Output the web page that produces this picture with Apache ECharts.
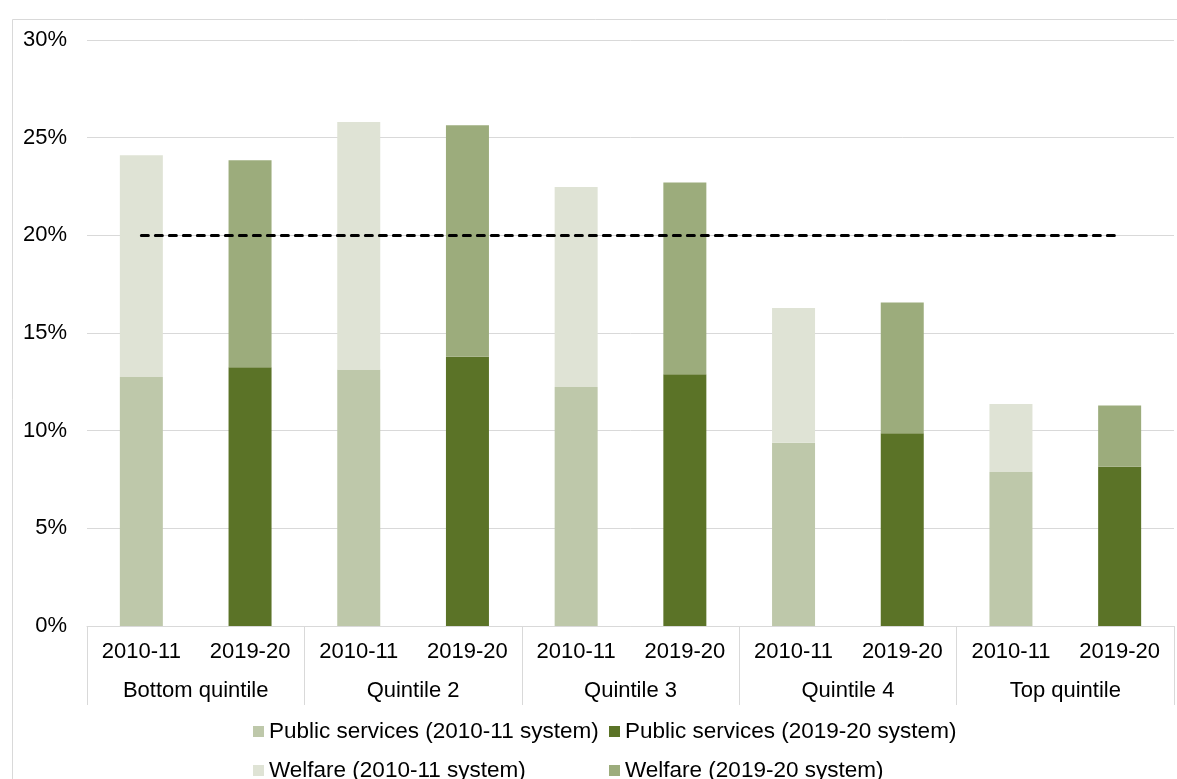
<!DOCTYPE html>
<html>
<head>
<meta charset="utf-8">
<script src="https://cdn.jsdelivr.net/npm/echarts@6/dist/echarts.min.js"></script>
<style>
  html, body { margin: 0; padding: 0; background: #ffffff; }
  #chart { width: 1177px; height: 779px; }
</style>
</head>
<body>
<div id="chart"></div>
<script>
// Tax and benefit share of income by quintile, two policy systems
const years = ['2010-11', '2019-20', '2010-11', '2019-20', '2010-11', '2019-20', '2010-11', '2019-20', '2010-11', '2019-20'];
const groups = ['Bottom quintile', 'Quintile 2', 'Quintile 3', 'Quintile 4', 'Top quintile'];
const yTicks = [0, 5, 10, 15, 20, 25, 30];

// Values (%), '-' where a series has no bar in that slot
const publicServices2010 = [12.75, '-', 13.13, '-', 12.24, '-', 9.38, '-', 7.88, '-'];
const publicServices2019 = ['-', 13.25, '-', 13.78, '-', 12.89, '-', 9.87, '-', 8.15];
const welfare2010 = [11.35, '-', 12.67, '-', 10.23, '-', 6.90, '-', 3.48, '-'];
const welfare2019 = ['-', 10.60, '-', 11.85, '-', 9.82, '-', 6.69, '-', 3.14];
const referenceLevel = 20;

const seriesNames = [
  'Public services (2010-11 system)',
  'Public services (2019-20 system)',
  'Welfare (2010-11 system)',
  'Welfare (2019-20 system)'
];
const colors = ['#bec8aa', '#5b7327', '#dfe3d5', '#9cac7c'];

const axisFont = { fontFamily: 'Liberation Sans, Arial, sans-serif', fontSize: 22, color: '#000000' };
const legendFont = { fontFamily: 'Liberation Sans, Arial, sans-serif', fontSize: 22.5, color: '#000000' };

function legendAt(name, left, top) {
  return {
    data: [name], left: left, top: top, itemWidth: 11, itemHeight: 11, itemGap: 0,
    icon: 'rect', padding: 0, textStyle: legendFont, selectedMode: true
  };
}

const chart = echarts.init(document.getElementById('chart'), null, { renderer: 'canvas' });

chart.setOption({
  animation: false,
  backgroundColor: '#ffffff',
  color: colors,
  graphic: [{
    type: 'rect', silent: true, z: -10,
    shape: { x: 12.5, y: 19.5, width: 1200, height: 800 },
    style: { fill: 'none', stroke: '#d9d9d9', lineWidth: 1 }
  }],
  grid: { left: 87, right: 3, top: 40, bottom: 153, containLabel: false },
  legend: [
    legendAt(seriesNames[0], 253, 720),
    legendAt(seriesNames[1], 609, 720),
    legendAt(seriesNames[2], 253, 759),
    legendAt(seriesNames[3], 609, 759)
  ],
  xAxis: [{
    type: 'category', data: years, position: 'bottom',
    axisLine: { show: true, lineStyle: { color: '#d9d9d9', width: 1 } },
    axisTick: { show: false },
    axisLabel: Object.assign({ interval: 0, margin: 15 }, axisFont)
  }, {
    type: 'category', data: groups, position: 'bottom',
    axisLine: { show: false },
    axisTick: { show: true, length: 79, interval: 0, lineStyle: { color: '#d9d9d9', width: 1 } },
    axisLabel: Object.assign({ interval: 0, margin: 54 }, axisFont)
  }],
  yAxis: {
    type: 'value', min: yTicks[0], max: yTicks[yTicks.length - 1], interval: 5,
    axisLine: { show: false }, axisTick: { show: false },
    splitLine: { lineStyle: { color: '#d9d9d9', width: 1 } },
    axisLabel: Object.assign({ margin: 20, formatter: v => v + '%' }, axisFont)
  },
  series: [
    { name: seriesNames[0], type: 'bar', stack: 'total', data: publicServices2010, barWidth: 43,
      markLine: {
        silent: true, symbol: 'none', label: { show: false },
        lineStyle: { color: '#000000', width: 3, type: [7, 7], cap: 'round' },
        data: [[{ xAxis: 0, yAxis: referenceLevel }, { xAxis: years.length - 1, yAxis: referenceLevel }]]
      }
    },
    { name: seriesNames[1], type: 'bar', stack: 'total', data: publicServices2019, barWidth: 43 },
    { name: seriesNames[2], type: 'bar', stack: 'total', data: welfare2010, barWidth: 43 },
    { name: seriesNames[3], type: 'bar', stack: 'total', data: welfare2019, barWidth: 43 }
  ]
});
</script>
</body>
</html>
